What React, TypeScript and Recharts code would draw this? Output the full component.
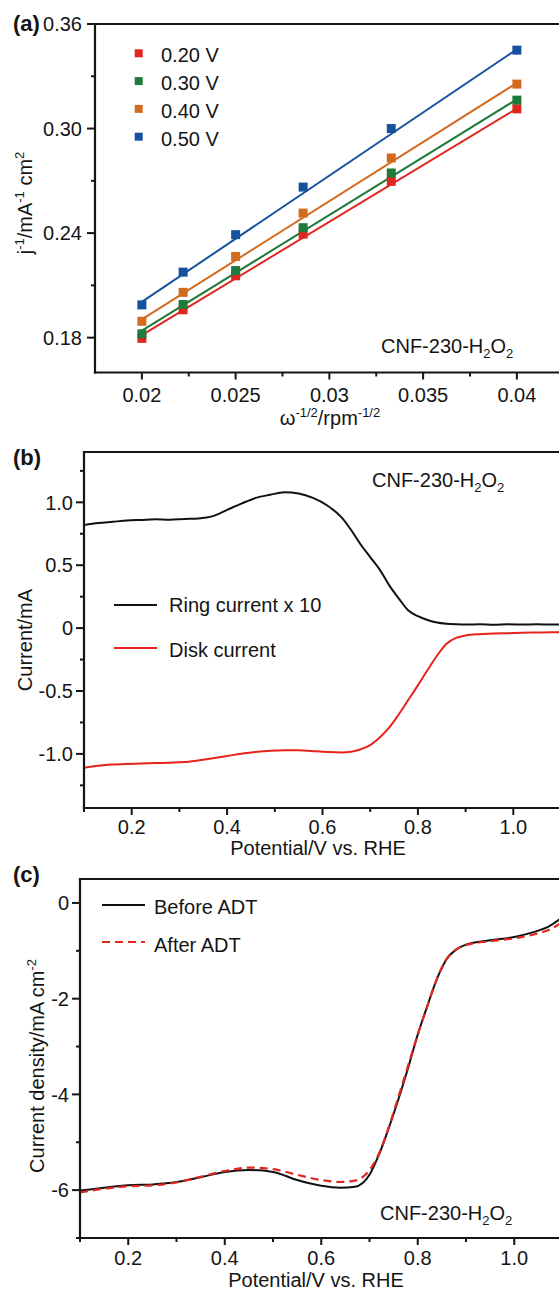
import { ComposedChart, LineChart, Line, Scatter, XAxis, YAxis, Legend } from 'recharts'

const INK = '#151515'
const FONT = '"Liberation Sans", Arial, Helvetica, sans-serif'

// ---- (a) Koutecky-Levich plots ----
const KL_X = [0.02, 0.0222, 0.025, 0.0286, 0.0333, 0.04]
const KL_020 = [0.1796, 0.196, 0.2155, 0.2394, 0.2697, 0.3113]
const KL_030 = [0.1822, 0.199, 0.2185, 0.2431, 0.2745, 0.3163]
const KL_040 = [0.1894, 0.206, 0.2266, 0.2515, 0.2831, 0.3255]
const KL_050 = [0.1988, 0.2176, 0.2391, 0.2664, 0.3, 0.345]
const FIT_X = [0.02, 0.04]
const FIT_020 = [0.1815, 0.3115]
const FIT_030 = [0.184, 0.3168]
const FIT_040 = [0.1905, 0.3262]
const FIT_050 = [0.2005, 0.3455]
const KL_NAMES = ['0.20 V', '0.30 V', '0.40 V', '0.50 V']
const KL_COLORS = ['#e1261f', '#1f7b3c', '#d36b1f', '#15519d']
const KL_X_MAJOR = [0.02, 0.025, 0.03, 0.035, 0.04]
const KL_X_MINOR = [0.0225, 0.0275, 0.0325, 0.0375]
const KL_Y_MAJOR = [0.18, 0.24, 0.3, 0.36]
const KL_Y_MINOR = [0.21, 0.27, 0.33]

// ---- (b) RRDE ring / disk ----
const POT_B = [0.1, 0.13, 0.16, 0.19, 0.22, 0.25, 0.28, 0.31, 0.34, 0.37, 0.4, 0.43, 0.46, 0.49, 0.52, 0.55, 0.58, 0.61, 0.64, 0.66, 0.68, 0.7, 0.72, 0.74, 0.76, 0.78, 0.8, 0.82, 0.84, 0.86, 0.88, 0.9, 0.93, 0.96, 0.99, 1.02, 1.05, 1.08, 1.1]
const RING = [0.82, 0.835, 0.845, 0.855, 0.86, 0.865, 0.862, 0.868, 0.872, 0.89, 0.94, 0.99, 1.035, 1.06, 1.08, 1.07, 1.035, 0.975, 0.88, 0.78, 0.665, 0.565, 0.465, 0.34, 0.235, 0.14, 0.095, 0.065, 0.045, 0.035, 0.03, 0.028, 0.03, 0.027, 0.03, 0.028, 0.03, 0.028, 0.03]
const DISK = [-1.11, -1.095, -1.085, -1.08, -1.077, -1.073, -1.07, -1.065, -1.052, -1.035, -1.017, -0.998, -0.985, -0.975, -0.97, -0.97, -0.978, -0.985, -0.988, -0.982, -0.963, -0.93, -0.87, -0.79, -0.685, -0.57, -0.455, -0.335, -0.22, -0.125, -0.078, -0.058, -0.048, -0.043, -0.04, -0.037, -0.035, -0.033, -0.032]
const B_Y_MAJOR = [-1, -0.5, 0, 0.5, 1]
const B_Y_MINOR = [-1.25, -0.75, -0.25, 0.25, 0.75, 1.25]

// ---- (c) LSV before / after ADT ----
const POT_C = [0.1, 0.15, 0.2, 0.25, 0.3, 0.35, 0.4, 0.45, 0.5, 0.55, 0.6, 0.64, 0.67, 0.7, 0.72, 0.74, 0.76, 0.78, 0.8, 0.82, 0.84, 0.86, 0.88, 0.9, 0.95, 1.0, 1.04, 1.07, 1.1]
const BEFORE = [-6.01, -5.95, -5.9, -5.88, -5.83, -5.73, -5.62, -5.58, -5.62, -5.79, -5.91, -5.95, -5.93, -5.68, -5.25, -4.7, -4.1, -3.45, -2.75, -2.15, -1.58, -1.17, -0.97, -0.87, -0.78, -0.71, -0.61, -0.5, -0.3]
const AFTER = [-6.05, -5.97, -5.92, -5.9, -5.84, -5.72, -5.6, -5.53, -5.56, -5.68, -5.79, -5.83, -5.8, -5.58, -5.23, -4.68, -4.05, -3.4, -2.75, -2.15, -1.58, -1.17, -0.97, -0.88, -0.8, -0.74, -0.66, -0.57, -0.4]
const C_Y_MAJOR = [-6, -4, -2, 0]
const C_Y_MINOR = [-7, -5, -3, -1]

const POT_MAJOR = [0.2, 0.4, 0.6, 0.8, 1.0]
const POT_MINOR = [0.1, 0.3, 0.5, 0.7, 0.9, 1.1]

const pts = (xs: number[], ys: number[]) => xs.map((x, i) => ({ x, y: ys[i] }))
const merge = (a: number[], b: number[]) => [...a, ...b].sort((p, q) => p - q)
const isMajor = (v: number, list: number[]) => list.some((m) => Math.abs(m - v) < 1e-6)

const AXIS_LINE = { stroke: INK, strokeWidth: 2.2, strokeLinecap: 'square' as const }
const TICK_FS = 20

function xTick(majors: number[], fmt: (v: number) => string, labelDy: number) {
  return (p: any) => {
    const { x, y, payload } = p
    const major = isMajor(payload.value, majors)
    return (
      <g>
        <line x1={x} x2={x} y1={y} y2={y + (major ? 7 : 4)} stroke={INK} strokeWidth={2} />
        {major && (
          <text x={x} y={y + labelDy} textAnchor="middle" fontSize={TICK_FS} fill={INK}>
            {fmt(payload.value)}
          </text>
        )}
      </g>
    )
  }
}

function yTick(majors: number[], fmt: (v: number) => string, gap: number) {
  return (p: any) => {
    const { x, y, payload } = p
    const major = isMajor(payload.value, majors)
    return (
      <g>
        <line x1={x} x2={x - (major ? 8 : 4)} y1={y} y2={y} stroke={INK} strokeWidth={2} />
        {major && (
          <text x={x - gap} y={y} dy="0.36em" textAnchor="end" fontSize={TICK_FS} fill={INK}>
            {fmt(payload.value)}
          </text>
        )}
      </g>
    )
  }
}

const square = (color: string) => (p: any) => (
  <rect x={p.cx - 4.5} y={p.cy - 4.5} width={9} height={9} fill={color} />
)

const A_TOP = 0
const B_TOP = 440
const C_TOP = 860
const W = 600

// plot-area margins for a chart placed at `top`; axes take 1px each
function frame(top: number, height: number, left: number, plotTop: number, right: number, bottom: number) {
  return { top: plotTop - top - 1, left: left - 1, right: W - right, bottom: top + height - bottom - 1 }
}

function KLLegend() {
  return (
    <svg width={W} height={440} style={{ position: 'absolute', left: 0, top: 0 }}>
      {KL_NAMES.map((n, i) => {
        const cy = 53.3 + i * 27.8 - A_TOP
        return (
          <g key={n}>
            <rect x={134.7} y={cy - 4} width={8} height={8} fill={KL_COLORS[i]} />
            <text x={161} y={cy + 9} fontSize={20} fill={INK}>{n}</text>
          </g>
        )
      })}
    </svg>
  )
}

function LineLegend({ top, items }: { top: number; items: { name: string; color: string; dash?: string; x1: number; x2: number; tx: number; ly: number; ty: number }[] }) {
  return (
    <svg width={W} height={440} style={{ position: 'absolute', left: 0, top: 0 }}>
      {items.map((it) => (
        <g key={it.name}>
          <line x1={it.x1} x2={it.x2} y1={it.ly - top} y2={it.ly - top} stroke={it.color} strokeWidth={2} strokeDasharray={it.dash} />
          <text x={it.tx} y={it.ty - top} fontSize={20} fill={INK}>{it.name}</text>
        </g>
      ))}
    </svg>
  )
}

function PanelA() {
  const series = [KL_020, KL_030, KL_040, KL_050]
  const fits = [FIT_020, FIT_030, FIT_040, FIT_050]
  return (
    <ComposedChart width={W} height={440} margin={frame(A_TOP, 440, 95, 24, 563.75, 372.5)}>
      <XAxis dataKey="x" type="number" domain={[0.0175, 0.0425]} allowDataOverflow ticks={merge(KL_X_MAJOR, KL_X_MINOR)} interval={0}
        height={1} tickSize={0} tickMargin={0} tickLine={false} axisLine={AXIS_LINE} tick={xTick(KL_X_MAJOR, (v) => String(v), 29)} />
      <XAxis xAxisId="top" orientation="top" dataKey="x" type="number" domain={[0.0175, 0.0425]} height={1} tick={false} tickLine={false} axisLine={AXIS_LINE} />
      <YAxis dataKey="y" type="number" domain={[0.16, 0.36]} allowDataOverflow ticks={merge(KL_Y_MAJOR, KL_Y_MINOR)} interval={0}
        width={1} tickSize={0} tickMargin={0} tickLine={false} axisLine={AXIS_LINE} tick={yTick(KL_Y_MAJOR, (v) => v.toFixed(2), 13)} />
      {fits.map((f, i) => (
        <Line key={'fit' + i} data={pts(FIT_X, f)} dataKey="y" type="linear" stroke={KL_COLORS[i]} strokeWidth={2} dot={false} legendType="none" isAnimationActive={false} />
      ))}
      {series.map((s, i) => (
        <Scatter key={KL_NAMES[i]} name={KL_NAMES[i]} data={pts(KL_X, s)} fill={KL_COLORS[i]} shape={square(KL_COLORS[i])} isAnimationActive={false} />
      ))}
      <Legend layout="vertical" align="center" verticalAlign="middle" wrapperStyle={{ left: 0, top: 0, width: W, height: 440 }} content={() => <KLLegend />} />
    </ComposedChart>
  )
}

function PanelB() {
  return (
    <LineChart width={W} height={440} margin={frame(B_TOP, 440, 84, 452, 561, 808)}>
      <XAxis dataKey="x" type="number" domain={[0.1, 1.1]} allowDataOverflow ticks={merge(POT_MAJOR, POT_MINOR)} interval={0}
        height={1} tickSize={0} tickMargin={0} tickLine={false} axisLine={AXIS_LINE} tick={xTick(POT_MAJOR, (v) => v.toFixed(1), 26)} />
      <XAxis xAxisId="top" orientation="top" dataKey="x" type="number" domain={[0.1, 1.1]} height={1} tick={false} tickLine={false} axisLine={AXIS_LINE} />
      <YAxis dataKey="y" type="number" domain={[-1.43, 1.4]} allowDataOverflow ticks={merge(B_Y_MAJOR, B_Y_MINOR)} interval={0}
        width={1} tickSize={0} tickMargin={0} tickLine={false} axisLine={AXIS_LINE} tick={yTick(B_Y_MAJOR, (v) => (v === 0 ? '0' : v.toFixed(1)), 11)} />
      <Line data={pts(POT_B, RING)} dataKey="y" name="Ring current x 10" type="monotone" stroke="#111111" strokeWidth={2} dot={false} isAnimationActive={false} />
      <Line data={pts(POT_B, DISK)} dataKey="y" name="Disk current" type="monotone" stroke="#e8231c" strokeWidth={2} dot={false} isAnimationActive={false} />
      <Legend layout="vertical" align="center" verticalAlign="middle" wrapperStyle={{ left: 0, top: 0, width: W, height: 440 }}
        content={() => (
          <LineLegend top={B_TOP} items={[
            { name: 'Ring current x 10', color: '#111111', x1: 114, x2: 157, tx: 169, ly: 605, ty: 612 },
            { name: 'Disk current', color: '#e8231c', x1: 114, x2: 157, tx: 169, ly: 648, ty: 657 },
          ]} />
        )} />
    </LineChart>
  )
}

function PanelC() {
  return (
    <LineChart width={W} height={430} margin={frame(C_TOP, 430, 80, 879, 562.5, 1238)}>
      <XAxis dataKey="x" type="number" domain={[0.1, 1.1]} allowDataOverflow ticks={merge(POT_MAJOR, POT_MINOR)} interval={0}
        height={1} tickSize={0} tickMargin={0} tickLine={false} axisLine={AXIS_LINE} tick={xTick(POT_MAJOR, (v) => v.toFixed(1), 27)} />
      <XAxis xAxisId="top" orientation="top" dataKey="x" type="number" domain={[0.1, 1.1]} height={1} tick={false} tickLine={false} axisLine={AXIS_LINE} />
      <YAxis dataKey="y" type="number" domain={[-7, 0.5]} allowDataOverflow ticks={merge(C_Y_MAJOR, C_Y_MINOR)} interval={0}
        width={1} tickSize={0} tickMargin={0} tickLine={false} axisLine={AXIS_LINE} tick={yTick(C_Y_MAJOR, (v) => String(v), 11)} />
      <Line data={pts(POT_C, BEFORE)} dataKey="y" name="Before ADT" type="monotone" stroke="#111111" strokeWidth={2} dot={false} isAnimationActive={false} />
      <Line data={pts(POT_C, AFTER)} dataKey="y" name="After ADT" type="monotone" stroke="#e3261f" strokeWidth={2.2} strokeDasharray="8 5" dot={false} isAnimationActive={false} />
      <Legend layout="vertical" align="center" verticalAlign="middle" wrapperStyle={{ left: 0, top: 0, width: W, height: 430 }}
        content={() => (
          <LineLegend top={C_TOP} items={[
            { name: 'Before ADT', color: '#111111', x1: 102, x2: 145, tx: 154, ly: 905, ty: 914 },
            { name: 'After ADT', color: '#e3261f', dash: '8 5', x1: 102, x2: 145, tx: 154, ly: 942, ty: 951.5 },
          ]} />
        )} />
    </LineChart>
  )
}

function Sample({ x, y }: { x: number; y: number }) {
  return (
    <text x={x} y={y} fontSize={20} fill={INK}>
      CNF-230-H<tspan fontSize={13} dy={5}>2</tspan><tspan dy={-5}>O</tspan><tspan fontSize={13} dy={5}>2</tspan>
    </text>
  )
}

function Annotations() {
  const sup = { fontSize: 13 }
  return (
    <svg width={559} height={1290} style={{ position: 'absolute', left: 0, top: 0, pointerEvents: 'none' }}>
      <text x={13} y={31} fontSize={22} fontWeight="bold" fill={INK}>(a)</text>
      <text x={13} y={465} fontSize={22} fontWeight="bold" fill={INK}>(b)</text>
      <text x={13} y={882} fontSize={22} fontWeight="bold" fill={INK}>(c)</text>

      <text transform="translate(32,203) rotate(-90)" textAnchor="middle" fontSize={20} fill={INK}>
        j<tspan {...sup} dy={-8}>-1</tspan><tspan dy={8}>/mA</tspan><tspan {...sup} dy={-8}>-1</tspan><tspan dy={8}> cm</tspan><tspan {...sup} dy={-8}>2</tspan>
      </text>
      <text x={330} y={425} textAnchor="middle" fontSize={20} fill={INK}>
        ω<tspan {...sup} dy={-8}>-1/2</tspan><tspan dy={8}>/rpm</tspan><tspan {...sup} dy={-8}>-1/2</tspan>
      </text>
      <Sample x={381} y={353} />

      <text transform="translate(32,640) rotate(-90)" textAnchor="middle" fontSize={20} fill={INK}>Current/mA</text>
      <text x={318} y={855} textAnchor="middle" fontSize={20} fill={INK}>Potential/V vs. RHE</text>
      <Sample x={372} y={487} />

      <text transform="translate(44,1066) rotate(-90)" textAnchor="middle" fontSize={20} fill={INK}>
        Current density/mA cm<tspan {...sup} dy={-8}>-2</tspan>
      </text>
      <text x={316} y={1287} textAnchor="middle" fontSize={20} fill={INK}>Potential/V vs. RHE</text>
      <Sample x={380} y={1220} />
    </svg>
  )
}

export default function App() {
  return (
    <div style={{ position: 'fixed', left: 0, top: 0, width: 559, height: 1290, overflow: 'hidden', background: '#fff', fontFamily: FONT, color: INK }}>
      <div style={{ position: 'absolute', left: 0, top: A_TOP }}><PanelA /></div>
      <div style={{ position: 'absolute', left: 0, top: B_TOP }}><PanelB /></div>
      <div style={{ position: 'absolute', left: 0, top: C_TOP }}><PanelC /></div>
      <Annotations />
    </div>
  )
}
